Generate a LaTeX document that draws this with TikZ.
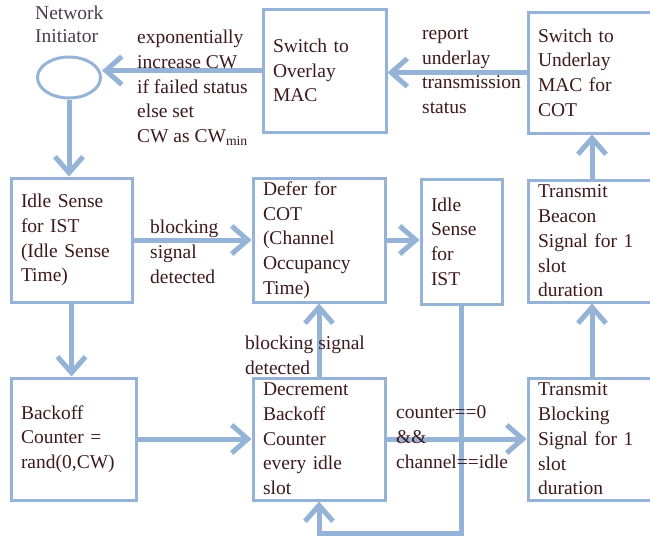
\documentclass[tikz,border=0pt]{standalone}
\usepackage{fontspec}
\setmainfont{Liberation Serif}
\usetikzlibrary{arrows.meta,shapes.geometric}
\definecolor{lb}{HTML}{95B3D7}
\definecolor{tx}{HTML}{3E1A1C}
\definecolor{tx2}{HTML}{4B3B4E}
\begin{document}
\begin{tikzpicture}[x=1pt,y=-1pt,
  box/.style={draw=lb, line width=3pt, rectangle, align=left, inner xsep=10pt, inner ysep=0pt, text=tx, font=\fontsize{19.5}{24.7}\selectfont},
  lbl/.style={align=left, inner sep=0pt, text=tx, font=\fontsize{19.5}{24.7}\selectfont},
  arr/.style={draw=lb, line width=5pt, -{Straight Barb[length=16pt,width=28pt]}}]
\clip (0,0) rectangle (650,541);
\fill[white] (0,0) rectangle (650,541);
% boxes
\node[box, minimum width=123pt, minimum height=123pt, text width=103pt] (ov) at (324.5,70.5) {Switch to\\Overlay\\MAC};
\node[box, minimum width=128pt, minimum height=121pt, text width=108pt] (un) at (592,72.5) {Switch to\\Underlay\\MAC for\\COT};
\node[box, minimum width=121pt, minimum height=124pt, text width=101pt] (id1) at (71.5,240) {Idle Sense\\for IST\\(Idle Sense\\Time)};
\node[box, minimum width=132pt, minimum height=124pt, text width=112pt] (df) at (319,240) {Defer for\\COT\\(Channel\\Occupancy\\Time)};
\node[box, minimum width=81pt, minimum height=125pt, text width=61pt] (id2) at (461.5,241.5) {Idle\\Sense\\for\\IST};
\node[box, minimum width=128pt, minimum height=122pt, text width=108pt] (bc) at (592,241) {Transmit\\Beacon\\Signal for 1\\slot\\duration};
\node[box, minimum width=125pt, minimum height=122pt, text width=105pt] (bo) at (73.5,439) {Backoff\\Counter =\\rand(0,CW)};
\node[box, minimum width=132pt, minimum height=122pt, text width=112pt] (dec) at (319,439) {Decrement\\Backoff\\Counter\\every idle\\slot};
\node[box, minimum width=128pt, minimum height=122pt, text width=108pt] (tb) at (592,439) {Transmit\\Blocking\\Signal for 1\\slot\\duration};
\node[draw=lb, line width=3pt, ellipse, minimum width=63pt, minimum height=41pt, inner sep=0pt] (ell) at (69,77.5) {};
% connectors
\coordinate (lp) at (0,533);
\draw[arr] (ov.west) -- (ov.west -| ell.east);
\draw[arr] (un.west) -- (un.west -| ov.east);
\draw[arr] (ell.south) -- (ell.south |- id1.north);
\draw[arr] (id1.south) -- (id1.south |- bo.north);
\draw[arr] (id1.east) -- (df.west);
\draw[arr] (bo.east) -- (bo.east -| dec.west);
\draw[arr] (dec.north) -- (df.south);
\draw[arr] (df.east) -- (df.east -| id2.west);
\draw[arr] (id2.south) -- (id2.south |- lp) -| (dec.south);
\draw[arr] (dec.east) -- (tb.west);
\draw[arr] (tb.north) -- (bc.south);
\draw[arr] (bc.north) -- (un.south);
% labels
\node[lbl, text=tx2, font=\fontsize{19.5}{23}\selectfont, anchor=west] (nl) at (35,24.5) {Network\\Initiator};
\node[lbl, anchor=west] (l1) at (137,88) {exponentially\\increase CW\\if failed status\\else set\\CW as CW\textsubscript{min}};
\node[lbl, anchor=west] (l2) at (422,71) {report\\underlay\\transmission\\status};
\node[lbl, anchor=west] (l3) at (150,252) {blocking\\signal\\detected};
\node[lbl, anchor=west] (l4) at (245,355.5) {blocking signal\\detected};
\node[lbl, anchor=west] (l5) at (396,437) {counter==0\\\&\&\\channel==idle};
\end{tikzpicture}
\end{document}
